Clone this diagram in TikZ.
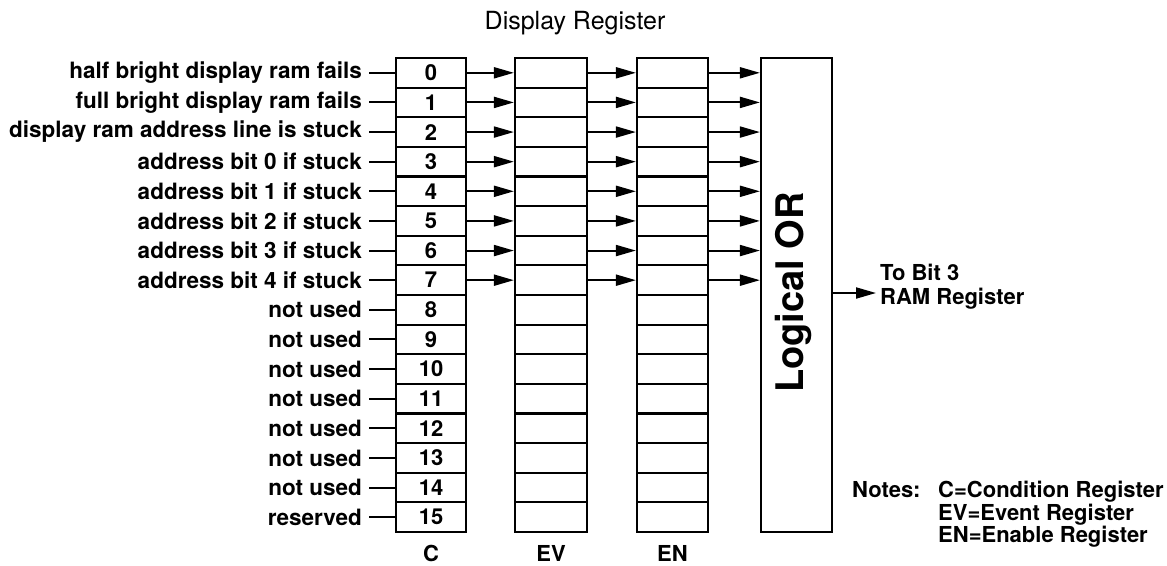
\documentclass[tikz,border=0pt]{standalone}
\usepackage{fontspec}
\setmainfont{TeX Gyre Heros}
\usetikzlibrary{arrows.meta,positioning}

\begin{document}
\begin{tikzpicture}[
    x=1pt,y=-1pt,
    cell/.style={rectangle,draw,line width=2.2pt,inner sep=0pt,minimum height=29.6pt,font=\fontsize{22}{24}\selectfont\bfseries},
    lbl/.style={inner sep=0pt,anchor=east,font=\fontsize{22.5}{24}\selectfont\bfseries},
    txt/.style={inner sep=0pt,font=\fontsize{22}{24}\selectfont\bfseries},
    wire/.style={line width=2pt},
    arrow/.style={-{Triangle[length=20pt,width=11pt]},line width=2pt}
]
\useasboundingbox (0,0) rectangle (1167,565);
\node[font=\fontsize{25}{27}\selectfont] (title) at (575,23) {Display Register};
% register columns
\foreach \i/\t in {0/half bright display ram fails,1/full bright display ram fails,
    2/display ram address line is stuck,3/address bit 0 if stuck,4/address bit 1 if stuck,
    5/address bit 2 if stuck,6/address bit 3 if stuck,7/address bit 4 if stuck,
    8/not used,9/not used,10/not used,11/not used,12/not used,13/not used,14/not used,15/reserved}{
  \pgfmathsetmacro\yy{72.8+29.625*\i}
  \node[cell,minimum width=70pt] (c\i) at (431,\yy) {\i};
  \node[cell,minimum width=72pt] (ev\i) at (551,\yy) {};
  \node[cell,minimum width=71pt] (en\i) at (672.5,\yy) {};
  \node[lbl] (l\i) at (362,\yy) {\t};
  \draw[wire] (l\i.east) ++(7,0) -- (c\i.west);
}
\node[draw,line width=2.2pt,minimum width=71pt,minimum height=474pt,inner sep=0pt] (or) at (796.5,295) {};
\node[rotate=90,inner sep=0pt,font=\fontsize{38}{40}\selectfont\bfseries] (ortext) at (793,292.5) {Logical OR};
\foreach \i in {0,...,7}{
  \draw[arrow] (c\i) -- (ev\i);
  \draw[arrow] (ev\i) -- (en\i);
  \draw[arrow] (en\i.east) -- (or.west |- en\i);
}
% output
\coordinate (tip) at (876,293);
\draw[arrow] (or.east |- tip) -- (tip);
\node[txt,anchor=west,align=left] (out) at (880,287) {To Bit 3\\RAM Register};
% column names
\node[txt] (cname) at (431,553) {C};
\node[txt] (evname) at (551,553) {EV};
\node[txt] (enname) at (672.5,553) {EN};
% notes
\node[txt,anchor=base west] (notes) at (852,497) {Notes:};
\node[txt,anchor=base west] (cnote) at (938,497) {C=Condition Register};
\node[txt,anchor=base west] (evnote) at (938,520) {EV=Event Register};
\node[txt,anchor=base west] (ennote) at (938,542) {EN=Enable Register};
\end{tikzpicture}
\end{document}
